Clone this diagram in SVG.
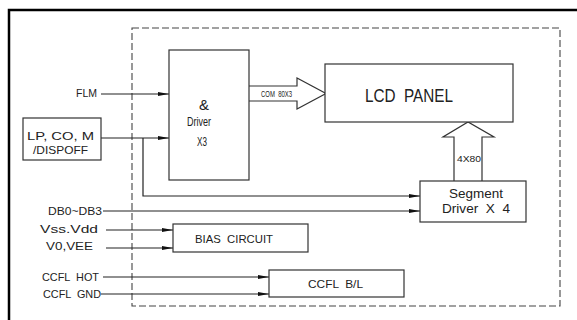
<svg xmlns="http://www.w3.org/2000/svg" width="577" height="320" viewBox="0 0 577 320">
<defs>
<style>
.t{font-family:"Liberation Sans",Arial,sans-serif;font-size:11px;fill:#222}
.box{fill:#fff;stroke:#333;stroke-width:1.2}
.w{fill:none;stroke:#222;stroke-width:1.2}
.blk{fill:#fff;stroke:#333;stroke-width:1.2}
</style>
<marker id="ah" markerUnits="userSpaceOnUse" markerWidth="12" markerHeight="6" refX="11" refY="2.5" orient="auto">
<path d="M0,0.5 L11,2.5 L0,4.5 z" fill="#111"/>
</marker>
</defs>
<rect width="577" height="320" fill="#fff"/>
<path d="M9,320 V10 H577" fill="none" stroke="#000" stroke-width="2.5"/>
<rect id="module" x="132" y="28" width="428" height="278" fill="none" stroke="#444" stroke-width="1.1" stroke-dasharray="7 3"/>

<g id="connectors">
<path class="w" d="M101,94 H169" marker-end="url(#ah)"/>
<path class="w" d="M101,138 H169" marker-end="url(#ah)"/>
<path class="w" d="M143,138 V196 H420" marker-end="url(#ah)"/>
<path class="w" d="M103,211 H420" marker-end="url(#ah)"/>
<path class="w" d="M106,230 H173" marker-end="url(#ah)"/>
<path class="w" d="M106,248 H173" marker-end="url(#ah)"/>
<path class="w" d="M103,277 H269" marker-end="url(#ah)"/>
<path class="w" d="M101,294 H269" marker-end="url(#ah)"/>
<path id="com-bus" class="blk" d="M249,86 H297 V78 L326,93.5 L297,109 V101 H249"/>
<path id="seg-bus" class="blk" d="M454,181 V137 H443 L468,122 L494,137 H482 V181"/>
<text class="t" x="261" y="97" style="font-size:8.5px" textLength="31" lengthAdjust="spacingAndGlyphs" xml:space="preserve">COM  80X3</text>
<text class="t" x="457" y="162" style="font-size:8.5px" textLength="24" lengthAdjust="spacingAndGlyphs">4X80</text>
</g>

<g id="flm"><text class="t" x="76" y="97" textLength="21" lengthAdjust="spacingAndGlyphs">FLM</text></g>
<g id="lp">
<rect class="box" x="23" y="118" width="78" height="42"/>
<text class="t" x="27" y="140" textLength="67" lengthAdjust="spacingAndGlyphs">LP, CO, M</text>
<text class="t" x="33" y="154" textLength="55" lengthAdjust="spacingAndGlyphs">/DISPOFF</text>
</g>
<g id="com-driver">
<rect class="box" x="169" y="50" width="80" height="130"/>
<text class="t" x="199" y="110" style="font-size:15px">&amp;</text>
<text class="t" x="187" y="126" style="font-size:12px" textLength="24" lengthAdjust="spacingAndGlyphs">Driver</text>
<text class="t" x="197" y="146" style="font-size:12px" textLength="10" lengthAdjust="spacingAndGlyphs">X3</text>
</g>
<g id="lcd">
<rect class="box" x="325" y="64" width="188" height="58"/>
<text class="t" x="365" y="102" style="font-size:18px" textLength="88" lengthAdjust="spacingAndGlyphs" xml:space="preserve">LCD  PANEL</text>
</g>
<g id="seg-driver">
<rect class="box" x="420" y="181" width="106" height="41"/>
<text class="t" x="449" y="198" style="font-size:12px" textLength="54" lengthAdjust="spacingAndGlyphs">Segment</text>
<text class="t" x="442" y="213" style="font-size:12px" textLength="68" lengthAdjust="spacingAndGlyphs" xml:space="preserve">Driver  X  4</text>
</g>
<g id="db"><text class="t" x="48" y="215" textLength="54" lengthAdjust="spacingAndGlyphs">DB0~DB3</text></g>
<g id="vss"><text class="t" x="40" y="233" textLength="58" lengthAdjust="spacingAndGlyphs">Vss.Vdd</text></g>
<g id="v0"><text class="t" x="46" y="250" textLength="47" lengthAdjust="spacingAndGlyphs">V0,VEE</text></g>
<g id="bias">
<rect class="box" x="173" y="224" width="135" height="28"/>
<text class="t" x="195" y="243" textLength="78" lengthAdjust="spacingAndGlyphs" xml:space="preserve">BIAS  CIRCUIT</text>
</g>
<g id="ccfl-hot"><text class="t" x="42" y="281" textLength="57" lengthAdjust="spacingAndGlyphs" xml:space="preserve">CCFL  HOT</text></g>
<g id="ccfl-gnd"><text class="t" x="43" y="298" textLength="58" lengthAdjust="spacingAndGlyphs" xml:space="preserve">CCFL  GND</text></g>
<g id="ccfl-bl">
<rect class="box" x="269" y="270" width="135" height="27"/>
<text class="t" x="308" y="288" textLength="55" lengthAdjust="spacingAndGlyphs" xml:space="preserve">CCFL  B/L</text>
</g>
</svg>
